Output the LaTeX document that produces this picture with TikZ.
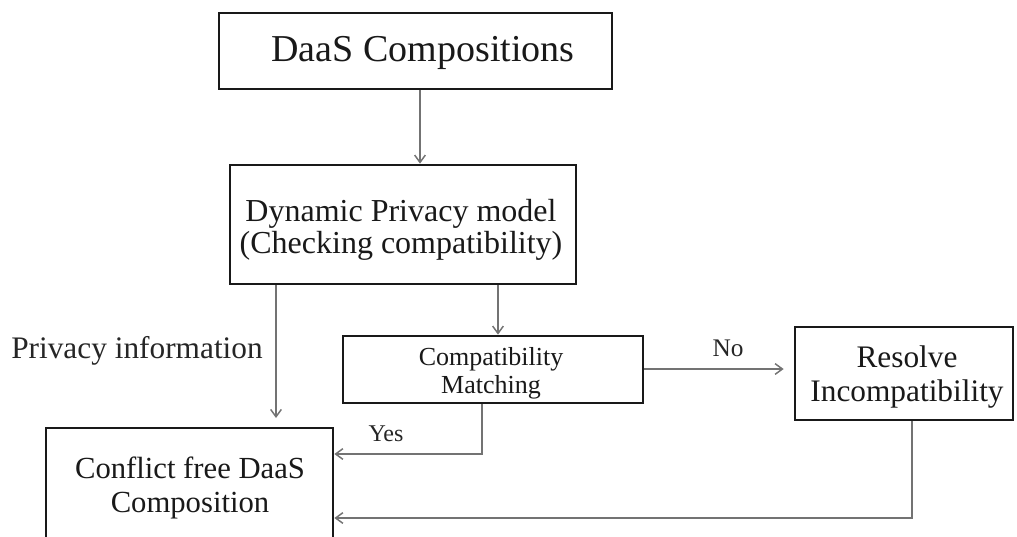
\documentclass[tikz,border=0pt]{standalone}
\usepackage{fontspec}
\setmainfont{Liberation Serif}
\usetikzlibrary{arrows.meta}
\begin{document}
\begin{tikzpicture}[x=0.75pt,y=-0.75pt,
  box/.style={draw=black!90, line width=2pt, fill=white, inner sep=0pt},
  txt/.style={align=center, inner sep=0pt, text=black!90},
  conn/.style={draw=black!55, line width=1.1pt, -{Straight Barb[length=5.5pt,width=8pt]}},
  lab/.style={inner sep=0pt, text=black!85}
]
\useasboundingbox (0,0) rectangle (1017,536);
% boxes
\node[box, minimum width=393*0.75pt, minimum height=76*0.75pt] (daas) at (415.5,51) {};
\node[txt, font=\fontsize{28.5}{34}\selectfont] (daast) at (423,53) {DaaS Compositions};
\node[box, minimum width=346*0.75pt, minimum height=119*0.75pt] (dyn) at (403,224.5) {};
\node[txt, font=\fontsize{24}{24.5}\selectfont] (dynt) at (401,230)
      {Dynamic Privacy model\\(Checking compatibility)};
\node[box, minimum width=300*0.75pt, minimum height=67*0.75pt] (comp) at (493,369.5) {};
\node[txt, font=\fontsize{19.5}{21}\selectfont] (compt) at (491,373)
      {Compatibility\\Matching};
\node[box, minimum width=218*0.75pt, minimum height=93*0.75pt] (res) at (904,373.5) {};
\node[txt, font=\fontsize{23.5}{25.5}\selectfont] (rest) at (907,377)
      {Resolve\\Incompatibility};
\node[box, minimum width=287*0.75pt, minimum height=114*0.75pt] (cf) at (189.5,485) {};
\node[txt, font=\fontsize{23}{25.5}\selectfont] (cft) at (190,488)
      {Conflict free DaaS\\Composition};
% helper coordinates
\coordinate (xa) at (420,0);
\coordinate (xb) at (276,0);
\coordinate (xc) at (498,0);
\coordinate (xd) at (482,0);
\coordinate (xe) at (912,0);
\coordinate (pend) at (276,418);
\coordinate (yyes) at (0,454);
\coordinate (yres) at (0,518);
\coordinate (yno) at (0,369);
% connectors
\draw[conn] (daas.south -| xa) -- (dyn.north -| xa);
\draw[conn] (dyn.south -| xb) -- (pend);
\draw[conn] (dyn.south -| xc) -- (comp.north -| xc);
\draw[conn, shorten >=7.5pt] (comp.east |- yno) -- (res.west |- yno);
\draw[conn] (comp.south -| xd) |- (cf.east |- yyes);
\draw[conn] (res.south -| xe) |- (cf.east |- yres);
% labels
\node[lab, anchor=east, font=\fontsize{23.5}{25}\selectfont] (pinfo) at (263,351) {Privacy information};
\node[lab, font=\fontsize{18}{20}\selectfont] (yes) at (386,434) {Yes};
\node[lab, font=\fontsize{19}{20}\selectfont] (no) at (728,348) {No};
\end{tikzpicture}
\end{document}
